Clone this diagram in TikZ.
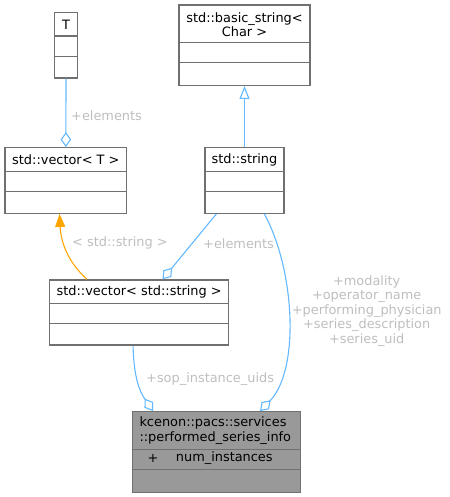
\documentclass[tikz,border=0pt]{standalone}
\usepackage{fontspec}
\setmainfont{DejaVu Sans}
\usetikzlibrary{arrows.meta,calc}
\definecolor{edgeblue}{HTML}{63B8FF}
\definecolor{lblgray}{HTML}{BEBEBE}
\definecolor{boxgray}{HTML}{707070}
\definecolor{mainfill}{HTML}{999999}
\definecolor{tmplorange}{HTML}{FFA500}
\begin{document}
\begin{tikzpicture}[x=1pt,y=-1pt,
  every node/.style={font=\fontsize{12.9}{14.5}\selectfont, inner sep=0pt},
  umlbox/.style={draw=boxgray, line width=1.3pt, fill=white},
  mainbox/.style={draw=boxgray, line width=1.3pt, fill=mainfill},
  divider/.style={draw=boxgray, line width=1.3pt},
  lbl/.style={text=lblgray},
  aggr/.style={draw=edgeblue, line width=1.1pt, -{Diamond[open, length=15pt, width=10.5pt, line width=1.1pt]}},
  inh/.style={draw=edgeblue, line width=1.1pt, -{Triangle[open, length=13pt, width=10pt, line width=1.1pt]}},
  tmpl/.style={draw=tmplorange, line width=1.1pt, -{Triangle[length=13pt, width=10pt]}}
]
\useasboundingbox (0,0) rectangle (449,497);

% boxes
\node[umlbox, minimum width=22.6pt, minimum height=65.3pt] (T) at (66,45.4) {};
\draw[divider] (T.west |- 0,36) -- (T.east |- 0,36);
\draw[divider] (T.west |- 0,56.7) -- (T.east |- 0,56.7);
\node at (66,24.5) {T};

\node[umlbox, minimum width=131pt, minimum height=80.3pt] (bs) at (244.5,45.2) {};
\draw[divider] (bs.west |- 0,42.7) -- (bs.east |- 0,42.7);
\draw[divider] (bs.west |- 0,62.7) -- (bs.east |- 0,62.7);
\node[align=center] at (244.5,24.5) {std::basic\_string<\\Char >};

\node[umlbox, minimum width=121.7pt, minimum height=65.6pt] (vT) at (65.85,180.5) {};
\draw[divider] (vT.west |- 0,171.7) -- (vT.east |- 0,171.7);
\draw[divider] (vT.west |- 0,191.7) -- (vT.east |- 0,191.7);
\node at (65.85,160) {std::vector< T >};

\node[umlbox, minimum width=79pt, minimum height=65.6pt] (str) at (244.5,180.5) {};
\draw[divider] (str.west |- 0,171.7) -- (str.east |- 0,171.7);
\draw[divider] (str.west |- 0,191.7) -- (str.east |- 0,191.7);
\node at (244.5,160) {std::string};

\node[umlbox, minimum width=179pt, minimum height=65pt] (vs) at (139.2,312.5) {};
\draw[divider] (vs.west |- 0,303.3) -- (vs.east |- 0,303.3);
\draw[divider] (vs.west |- 0,323.3) -- (vs.east |- 0,323.3);
\node at (139.2,292) {std::vector< std::string >};

\node[mainbox, minimum width=168pt, minimum height=80.6pt] (main) at (216.7,452) {};
\draw[divider] (main.west |- 0,449.3) -- (main.east |- 0,449.3);
\draw[divider] (main.west |- 0,469.3) -- (main.east |- 0,469.3);
\node[align=left, anchor=west] at (139.3,430.5) {kcenon::pacs::services\\::performed\_series\_info};
\node at (153,458.3) {+};
\node[anchor=west] at (175.7,458.3) {num\_instances};

% connectors
\draw[aggr] (T.south) -- (vT.north);
\node[lbl, anchor=west] (l1) at (71,115.5) {+elements};

\draw[inh] (str.north) -- (bs.south);

\draw[tmpl] ($(vs.north west)+(38,0)$) .. controls (70,264) and (61,245) .. ($(vT.south west)+(55.2,0)$);
\node[lbl, anchor=west] (l2) at (72,243.3) {< std::string >};

\draw[aggr] ($(str.south west)+(12,0)$) -- ($(vs.north west)+(113.5,0)$);
\node[lbl, anchor=west] (l3) at (203,243.3) {+elements};

\draw[aggr] ($(str.south west)+(60,0)$) .. controls (295,270) and (300,370) .. ($(main.north west)+(128,0)$);
\node[lbl, align=center] (l4) at (366.7,311) {+modality\\+operator\_name\\+performing\_physician\\+series\_description\\+series\_uid};

\draw[aggr] ($(vs.south west)+(84,0)$) .. controls (133.7,378) and (140,392) .. ($(main.north west)+(21,0)$);
\node[lbl, anchor=west] (l5) at (146,379.3) {+sop\_instance\_uids};
\end{tikzpicture}
\end{document}
